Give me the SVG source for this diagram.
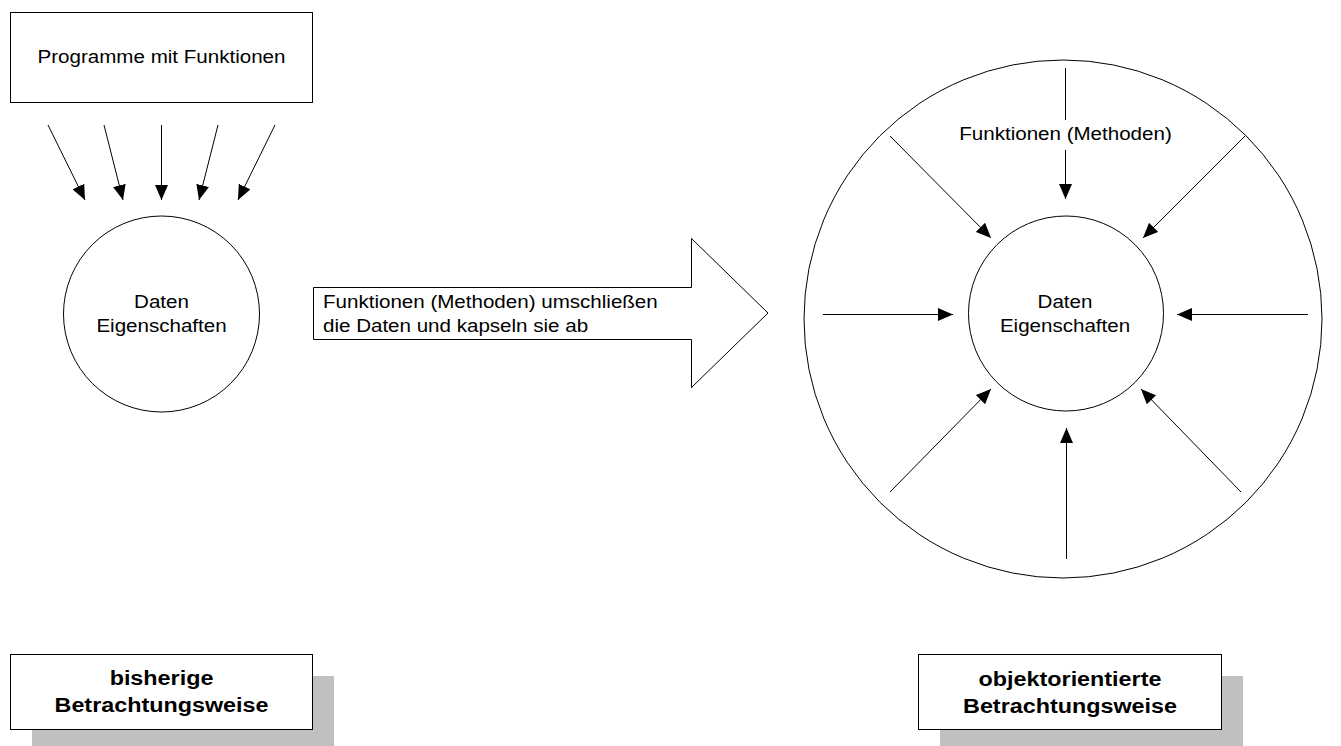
<svg xmlns="http://www.w3.org/2000/svg" width="1341" height="746" viewBox="0 0 1341 746">
  <style>
    .shape { fill: #ffffff; stroke: #000000; stroke-width: 1; }
    .shadow { fill: #c0c0c0; stroke: none; }
    .lbl { font-family: "Liberation Sans", Arial, sans-serif; font-size: 18.7px; fill: #000000; }
    .mid { text-anchor: middle; }
    .bold { font-family: "Liberation Sans", Arial, sans-serif; font-size: 20.3px; font-weight: bold; fill: #000000; text-anchor: middle; }
    .conn line { stroke: #000000; stroke-width: 1; marker-end: url(#head); }
  </style>
  <defs>
    <marker id="head" viewBox="0 0 15 13" refX="15" refY="6.5" markerWidth="15" markerHeight="13" markerUnits="userSpaceOnUse" orient="auto">
      <path d="M0,0 L15,6.5 L0,13 Z" fill="#000000"/>
    </marker>
  </defs>
  <rect width="1341" height="746" fill="#ffffff"/>

  <!-- left side: program block and data -->
  <g id="programme">
    <rect class="shape" x="10.5" y="12.5" width="302" height="90"/>
    <text class="lbl mid" transform="translate(161.5 63) scale(1.1 1)">Programme mit Funktionen</text>
  </g>
  <g id="daten-links">
    <circle class="shape" cx="161.5" cy="314" r="98"/>
    <text class="lbl mid" transform="translate(161.5 308) scale(1.1 1)">Daten</text>
    <text class="lbl mid" transform="translate(161.5 332) scale(1.1 1)">Eigenschaften</text>
  </g>

  <!-- transition arrow -->
  <g id="uebergang">
    <path class="shape" d="M313.5,287.5 L691.5,287.5 L691.5,238.5 L768,313 L691.5,387.5 L691.5,339.5 L313.5,339.5 Z"/>
    <text class="lbl" transform="translate(323 308) scale(1.1 1)">Funktionen (Methoden) umschließen</text>
    <text class="lbl" transform="translate(323 332) scale(1.1 1)">die Daten und kapseln sie ab</text>
  </g>

  <!-- right side: encapsulated object -->
  <g id="objekt">
    <circle class="shape" cx="1063" cy="319" r="259"/>
  </g>
  <g id="daten-rechts">
    <circle class="shape" cx="1066" cy="313.5" r="97.5"/>
    <text class="lbl mid" transform="translate(1065 308) scale(1.1 1)">Daten</text>
    <text class="lbl mid" transform="translate(1065 332) scale(1.1 1)">Eigenschaften</text>
  </g>

  <g id="connectors" class="conn">
    <!-- functions acting on data (left) -->
    <line x1="48" y1="125" x2="85" y2="200"/>
    <line x1="104" y1="125" x2="123" y2="200"/>
    <line x1="161.5" y1="125" x2="161.5" y2="200"/>
    <line x1="218" y1="125" x2="199" y2="200"/>
    <line x1="275" y1="125" x2="238" y2="200"/>
    <!-- methods surrounding data (right) -->
    <line x1="1065.5" y1="68" x2="1065.5" y2="199"/>
    <line x1="890" y1="136" x2="991" y2="238"/>
    <line x1="1245" y1="136" x2="1143" y2="238"/>
    <line x1="823" y1="314.5" x2="953" y2="314.5"/>
    <line x1="1308" y1="314.5" x2="1177" y2="314.5"/>
    <line x1="890" y1="492" x2="991" y2="389"/>
    <line x1="1066.5" y1="559" x2="1066.5" y2="428"/>
    <line x1="1241" y1="492" x2="1141" y2="389"/>
  </g>

  <g id="methoden-label">
    <rect x="960" y="120" width="211" height="30" fill="#ffffff"/>
    <text class="lbl mid" transform="translate(1065.5 140) scale(1.1 1)">Funktionen (Methoden)</text>
  </g>

  <!-- captions -->
  <g id="bisherig">
    <rect class="shadow" x="32" y="676" width="302" height="76"/>
    <rect class="shape" x="10.5" y="654.5" width="302" height="75"/>
    <text class="bold" transform="translate(161.5 685) scale(1.15 1)">bisherige</text>
    <text class="bold" transform="translate(161.5 712) scale(1.15 1)">Betrachtungsweise</text>
  </g>
  <g id="objektorientiert">
    <rect class="shadow" x="940" y="676" width="303" height="76"/>
    <rect class="shape" x="918.5" y="654.5" width="303" height="75"/>
    <text class="bold" transform="translate(1070 686) scale(1.15 1)">objektorientierte</text>
    <text class="bold" transform="translate(1070 713) scale(1.15 1)">Betrachtungsweise</text>
  </g>
</svg>
